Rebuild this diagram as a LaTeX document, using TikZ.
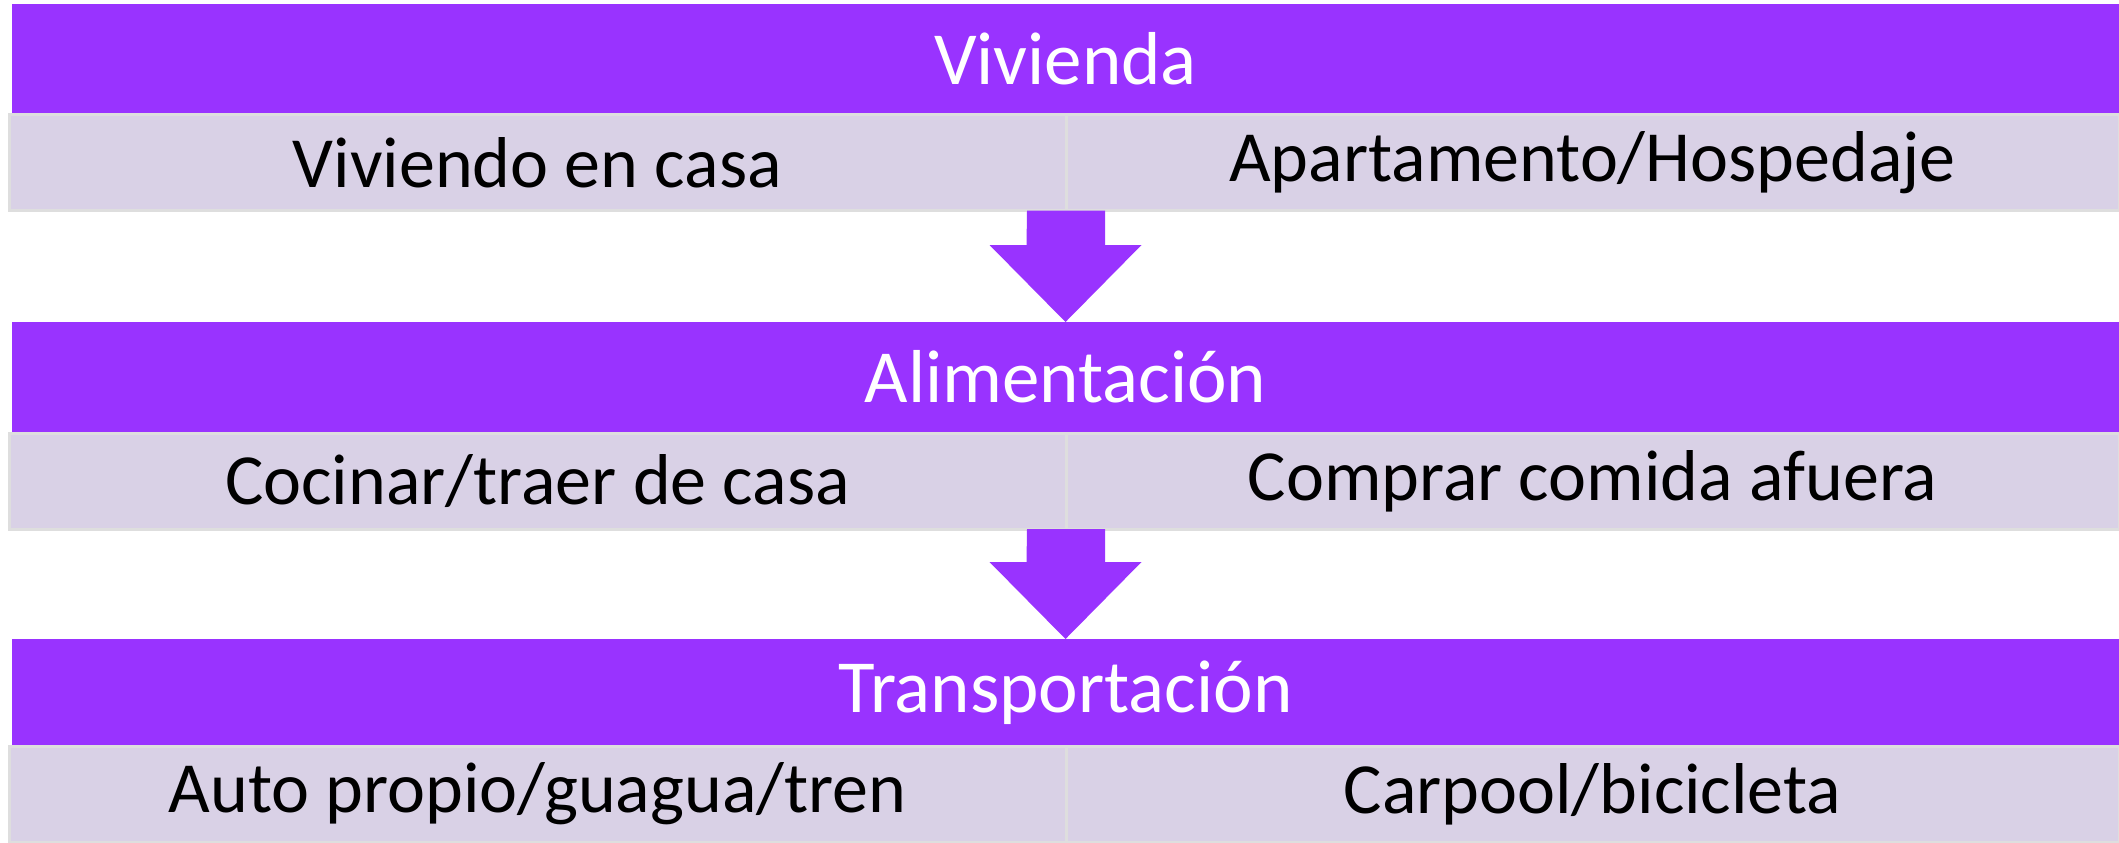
\documentclass[tikz,border=0pt]{standalone}
\usepackage{fontspec}
\setmainfont{Carlito}
\usetikzlibrary{calc}

\definecolor{bandpurple}{HTML}{9933FF}
\definecolor{celllilac}{HTML}{D9D1E6}
\definecolor{cellline}{HTML}{DEDEDE}

\tikzset{
  band/.style={fill=bandpurple, text=white, inner sep=0pt, outer sep=0pt,
    minimum width=1053.5pt, minimum height=55pt, font=\fontsize{37.5}{40}\selectfont},
  cell/.style={fill=celllilac, draw=cellline, line width=1.5pt, inner sep=0pt, outer sep=0pt,
    minimum height=48pt, font=\fontsize{36}{40}\selectfont},
  flowarrow/.style={fill=bandpurple}
}

\begin{document}
\begin{tikzpicture}[x=0.5pt, y=-0.5pt]
    \useasboundingbox (0,0) rectangle (2119,842);

    % Vivienda
    \node[band] (vivienda) at (1065.5,59) {Vivienda};
    \node[cell, minimum width=528.5pt] (viviendo) at (537.5,162.5) {Viviendo en casa};
    \node[cell, minimum width=526.5pt] (apartamento) at (1592.5,162.5) {Apartamento/Hospedaje};

    % Alimentacion
    \node[band] (alimentacion) at (1065.5,377) {Alimentación};
    \node[cell, minimum width=528.5pt] (cocinar) at (537.5,481) {Cocinar/traer de casa};
    \node[cell, minimum width=526.5pt] (comprar) at (1592.5,481) {Comprar comida afuera};

    % Transportacion
    \node[band, minimum height=53.5pt] (transporte) at (1065.5,692.5) {Transportación};
    \node[cell, minimum width=528.5pt] (auto) at (537.5,794) {Auto propio/guagua/tren};
    \node[cell, minimum width=526.5pt] (carpool) at (1592.5,794) {Carpool/bicicleta};

    % Flechas
    \foreach \row/\next in {viviendo/alimentacion, cocinar/transporte}
      \fill[flowarrow] (\row.south east) ++(-39,0) -- ++(78,0)
        |- ($(\next.north)+(76,-77)$) -- (\next.north) -- ++(-76,-77)
        -- ++(37,0) -- cycle;
  \end{tikzpicture}
\end{document}
